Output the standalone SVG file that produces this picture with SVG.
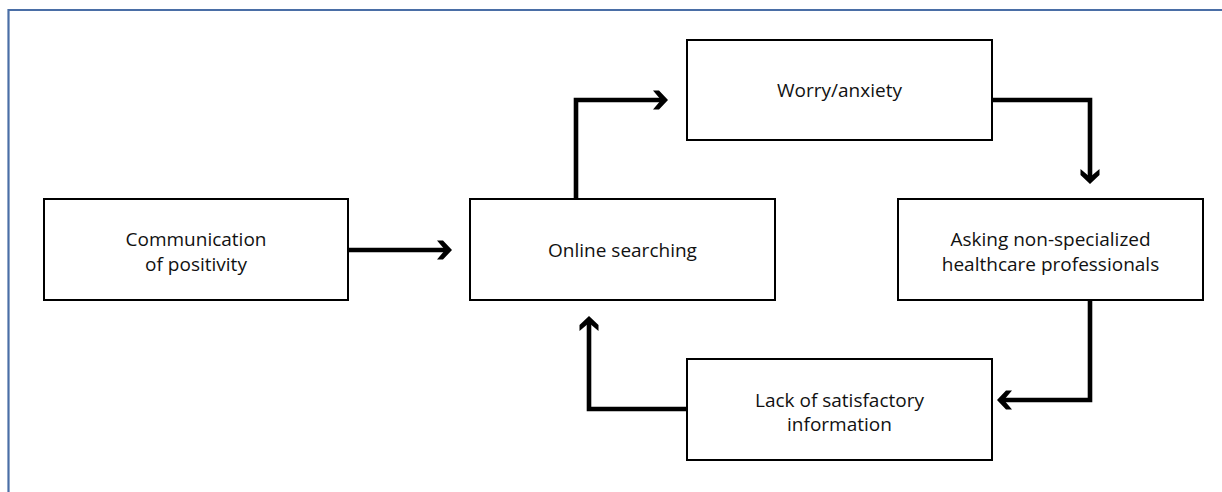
<svg xmlns="http://www.w3.org/2000/svg" xmlns:xlink="http://www.w3.org/1999/xlink" width="1222" height="492" viewBox="0 0 1222 492">
  <style>
    .box { fill: #ffffff; stroke: #000000; stroke-width: 2; }
    .lbl { font-family: "Open Sans", "Liberation Sans", sans-serif; font-size: 19px; fill: #111111; text-anchor: middle; }
    .conn { fill: none; stroke: #000000; stroke-width: 4.6; stroke-linejoin: miter; stroke-linecap: butt; }
    .frame { fill: none; stroke: #4a6ea6; stroke-width: 2.2; }
  </style>
  <defs>
    <polygon id="ah" points="0,0 -9,-9.5 -15,-9.5 -7,0 -15,9.5 -9,9.5" fill="#000000"/>
  </defs>
  <rect width="1222" height="492" fill="#ffffff"/>
  <path class="frame" d="M8.5,492 V10 H1222"/>

  <g id="node-communication">
    <rect class="box" x="44" y="199" width="304" height="101"/>
    <text class="lbl" x="196" y="246">Communication</text>
    <text class="lbl" x="196" y="270.5">of positivity</text>
  </g>
  <g id="node-online">
    <rect class="box" x="470" y="199" width="305" height="101"/>
    <text class="lbl" x="622.5" y="257">Online searching</text>
  </g>
  <g id="node-worry">
    <rect class="box" x="687" y="40" width="305" height="100"/>
    <text class="lbl" x="839.5" y="96.5">Worry/anxiety</text>
  </g>
  <g id="node-asking">
    <rect class="box" x="898" y="199" width="305" height="101"/>
    <text class="lbl" x="1050.5" y="246">Asking non-specialized</text>
    <text class="lbl" x="1050.5" y="270.5">healthcare professionals</text>
  </g>
  <g id="node-lack">
    <rect class="box" x="687" y="359" width="305" height="101"/>
    <text class="lbl" x="839.5" y="406.5">Lack of satisfactory</text>
    <text class="lbl" x="839.5" y="431">information</text>
  </g>

  <g id="connectors">
    <path class="conn" d="M349,250 H446"/>
    <use xlink:href="#ah" transform="translate(452,250)"/>
    <path class="conn" d="M576,198 V100 H662"/>
    <use xlink:href="#ah" transform="translate(668,100)"/>
    <path class="conn" d="M993,100 H1090 V178"/>
    <use xlink:href="#ah" transform="translate(1090,184) rotate(90)"/>
    <path class="conn" d="M1090,301 V400 H1003"/>
    <use xlink:href="#ah" transform="translate(997,400) rotate(180)"/>
    <path class="conn" d="M686,409 H589 V322"/>
    <use xlink:href="#ah" transform="translate(589,316) rotate(-90)"/>
  </g>
</svg>
